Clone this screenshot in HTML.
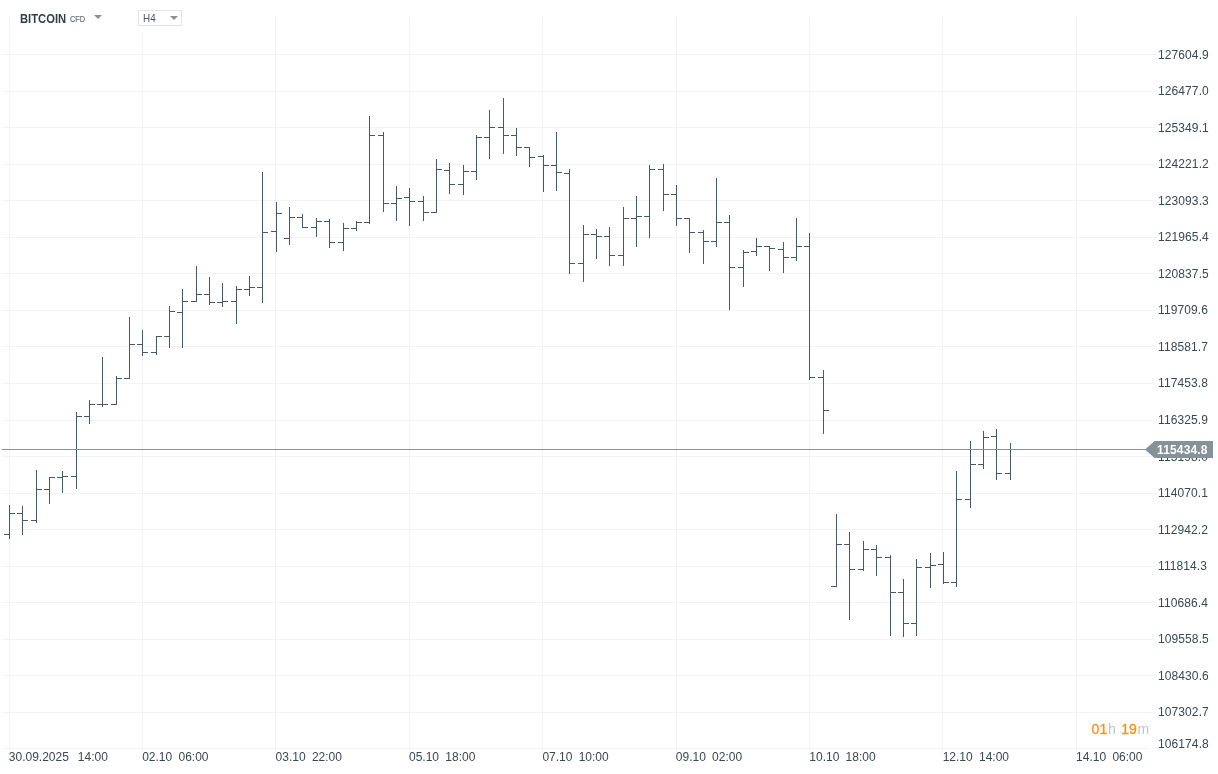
<!DOCTYPE html>
<html><head><meta charset="utf-8"><title>BITCOIN CFD H4</title>
<style>
html,body{margin:0;padding:0;background:#fff;}
body{width:1218px;height:774px;position:relative;overflow:hidden;font-family:"Liberation Sans",sans-serif;color:#37474f;}
.hg{position:absolute;left:2px;width:1154px;height:1px;background:#f1f3f5;}
.vg{position:absolute;width:1px;background:#f2f3f6;}
.pl{position:absolute;left:1158px;letter-spacing:0.1px;font-size:12px;line-height:14px;height:14px;white-space:nowrap;color:#3a4850;}
.tl{position:absolute;top:750px;font-size:12px;line-height:14px;white-space:nowrap;color:#3a4850;}
.bars{position:absolute;left:0;top:0;}
.cur{position:absolute;left:2px;top:449px;width:1150px;height:1px;background:#86929a;}
.tag{position:absolute;left:1145.2px;top:441px;}
.tagt{position:absolute;left:1157px;top:442.6px;font-size:12px;line-height:14px;font-weight:bold;color:#fff;white-space:nowrap;letter-spacing:0.15px}
.sym{position:absolute;left:20px;top:12px;font-size:12px;line-height:14px;font-weight:bold;color:#2f3f48;white-space:nowrap;transform-origin:0 0;transform:scaleX(0.935);}
.cfd{position:absolute;left:70px;top:14px;font-size:8.5px;line-height:10px;color:#69747a;-webkit-text-stroke:0.2px #69747a;transform-origin:0 0;transform:scaleX(0.86);white-space:nowrap;}
.tri{position:absolute;width:0;height:0;border-left:4px solid transparent;border-right:4px solid transparent;border-top:4px solid #8a8f92;}
.hbox{position:absolute;left:138px;top:10px;width:42px;height:14px;border:1px solid #e3e6e8;background:#fff;}
.h4{position:absolute;left:143px;top:12px;font-size:11px;line-height:12px;color:#4a5a63;transform-origin:0 0;transform:scaleX(0.9);}
.mask{position:absolute;left:136px;top:0;width:50px;height:32px;background:#fff;}
.timer{position:absolute;left:0;top:721px;font-size:14px;line-height:16px;white-space:nowrap;color:#bcc5ca;}
.timer span{position:absolute;top:0;}
.timer b{position:absolute;top:0;color:#f7931a;font-weight:normal;-webkit-text-stroke:0.35px #f7931a;}
</style></head><body>
<div class="hg" style="top:54px"></div><div class="hg" style="top:91px"></div><div class="hg" style="top:127px"></div><div class="hg" style="top:164px"></div><div class="hg" style="top:200px"></div><div class="hg" style="top:237px"></div><div class="hg" style="top:273px"></div><div class="hg" style="top:310px"></div><div class="hg" style="top:346px"></div><div class="hg" style="top:383px"></div><div class="hg" style="top:420px"></div><div class="hg" style="top:456px"></div><div class="hg" style="top:493px"></div><div class="hg" style="top:529px"></div><div class="hg" style="top:566px"></div><div class="hg" style="top:602px"></div><div class="hg" style="top:639px"></div><div class="hg" style="top:675px"></div><div class="hg" style="top:712px"></div>
<div class="vg" style="left:9px;top:18px;height:734px"></div><div class="vg" style="left:142px;top:32px;height:720px"></div><div class="vg" style="left:275px;top:18px;height:734px"></div><div class="vg" style="left:409px;top:18px;height:734px"></div><div class="vg" style="left:542px;top:18px;height:734px"></div><div class="vg" style="left:676px;top:18px;height:734px"></div><div class="vg" style="left:809px;top:18px;height:734px"></div><div class="vg" style="left:942px;top:18px;height:734px"></div><div class="vg" style="left:1076px;top:18px;height:734px"></div>
<div class="hg" style="top:748px;width:1148px"></div>
<div class="pl" style="top:48px">127604.9</div><div class="pl" style="top:84px">126477.0</div><div class="pl" style="top:121px">125349.1</div><div class="pl" style="top:157px">124221.2</div><div class="pl" style="top:194px">123093.3</div><div class="pl" style="top:230px">121965.4</div><div class="pl" style="top:267px">120837.5</div><div class="pl" style="top:303px">119709.6</div><div class="pl" style="top:340px">118581.7</div><div class="pl" style="top:376px">117453.8</div><div class="pl" style="top:413px">116325.9</div><div class="pl" style="top:450px">115198.0</div><div class="pl" style="top:486px">114070.1</div><div class="pl" style="top:523px">112942.2</div><div class="pl" style="top:559px">111814.3</div><div class="pl" style="top:596px">110686.4</div><div class="pl" style="top:632px">109558.5</div><div class="pl" style="top:669px">108430.6</div><div class="pl" style="top:705px">107302.7</div><div class="pl" style="top:737px">106174.8</div>
<div class="tl" style="left:8.8px">30.09.2025</div><div class="tl" style="left:77.8px">14:00</div><div class="tl" style="left:142.2px">02.10</div><div class="tl" style="left:178.5px">06:00</div><div class="tl" style="left:275.6px">03.10</div><div class="tl" style="left:311.9px">22:00</div><div class="tl" style="left:409.0px">05.10</div><div class="tl" style="left:445.3px">18:00</div><div class="tl" style="left:542.4px">07.10</div><div class="tl" style="left:578.7px">10:00</div><div class="tl" style="left:675.8px">09.10</div><div class="tl" style="left:712.1px">02:00</div><div class="tl" style="left:809.3px">10.10</div><div class="tl" style="left:845.6px">18:00</div><div class="tl" style="left:942.7px">12.10</div><div class="tl" style="left:979.0px">14:00</div><div class="tl" style="left:1076.1px">14.10</div><div class="tl" style="left:1112.4px">06:00</div>
<svg class="bars" width="1218" height="774" viewBox="0 0 1218 774" shape-rendering="crispEdges" fill="#455a64"><rect x="9" y="505" width="1" height="34"/><rect x="4" y="534" width="5" height="1"/><rect x="10" y="513" width="5" height="1"/><rect x="22" y="506" width="1" height="29"/><rect x="17" y="513" width="5" height="1"/><rect x="23" y="520" width="5" height="1"/><rect x="36" y="470" width="1" height="53"/><rect x="31" y="520" width="5" height="1"/><rect x="37" y="489" width="5" height="1"/><rect x="49" y="477" width="1" height="27"/><rect x="44" y="489" width="5" height="1"/><rect x="50" y="477" width="5" height="1"/><rect x="62" y="471" width="1" height="22"/><rect x="57" y="477" width="5" height="1"/><rect x="63" y="476" width="5" height="1"/><rect x="76" y="412" width="1" height="77"/><rect x="71" y="476" width="5" height="1"/><rect x="77" y="416" width="5" height="1"/><rect x="89" y="400" width="1" height="24"/><rect x="84" y="416" width="5" height="1"/><rect x="90" y="404" width="5" height="1"/><rect x="102" y="357" width="1" height="50"/><rect x="97" y="404" width="5" height="1"/><rect x="103" y="404" width="5" height="1"/><rect x="116" y="376" width="1" height="29"/><rect x="111" y="404" width="5" height="1"/><rect x="117" y="378" width="5" height="1"/><rect x="129" y="317" width="1" height="62"/><rect x="124" y="378" width="5" height="1"/><rect x="130" y="344" width="5" height="1"/><rect x="142" y="330" width="1" height="26"/><rect x="137" y="344" width="5" height="1"/><rect x="143" y="352" width="5" height="1"/><rect x="156" y="336" width="1" height="19"/><rect x="151" y="352" width="5" height="1"/><rect x="157" y="336" width="5" height="1"/><rect x="169" y="306" width="1" height="42"/><rect x="164" y="336" width="5" height="1"/><rect x="170" y="311" width="5" height="1"/><rect x="182" y="289" width="1" height="59"/><rect x="177" y="312" width="5" height="1"/><rect x="183" y="301" width="5" height="1"/><rect x="196" y="266" width="1" height="36"/><rect x="191" y="301" width="5" height="1"/><rect x="197" y="294" width="5" height="1"/><rect x="209" y="277" width="1" height="28"/><rect x="204" y="294" width="5" height="1"/><rect x="210" y="302" width="5" height="1"/><rect x="222" y="283" width="1" height="24"/><rect x="217" y="302" width="5" height="1"/><rect x="223" y="301" width="5" height="1"/><rect x="236" y="286" width="1" height="38"/><rect x="231" y="301" width="5" height="1"/><rect x="237" y="289" width="5" height="1"/><rect x="249" y="276" width="1" height="20"/><rect x="244" y="289" width="5" height="1"/><rect x="250" y="287" width="5" height="1"/><rect x="262" y="172" width="1" height="131"/><rect x="257" y="287" width="5" height="1"/><rect x="263" y="232" width="5" height="1"/><rect x="276" y="202" width="1" height="50"/><rect x="271" y="231" width="5" height="1"/><rect x="277" y="213" width="5" height="1"/><rect x="289" y="207" width="1" height="38"/><rect x="284" y="238" width="5" height="1"/><rect x="290" y="217" width="5" height="1"/><rect x="302" y="214" width="1" height="14"/><rect x="297" y="217" width="5" height="1"/><rect x="303" y="227" width="5" height="1"/><rect x="316" y="218" width="1" height="19"/><rect x="311" y="227" width="5" height="1"/><rect x="317" y="221" width="5" height="1"/><rect x="329" y="219" width="1" height="29"/><rect x="324" y="221" width="5" height="1"/><rect x="330" y="242" width="5" height="1"/><rect x="343" y="223" width="1" height="28"/><rect x="338" y="242" width="5" height="1"/><rect x="344" y="228" width="5" height="1"/><rect x="356" y="221" width="1" height="10"/><rect x="351" y="228" width="5" height="1"/><rect x="357" y="222" width="5" height="1"/><rect x="369" y="116" width="1" height="108"/><rect x="364" y="222" width="5" height="1"/><rect x="370" y="135" width="5" height="1"/><rect x="383" y="132" width="1" height="80"/><rect x="378" y="135" width="5" height="1"/><rect x="384" y="203" width="5" height="1"/><rect x="396" y="186" width="1" height="35"/><rect x="391" y="203" width="5" height="1"/><rect x="397" y="198" width="5" height="1"/><rect x="409" y="188" width="1" height="38"/><rect x="404" y="197" width="5" height="1"/><rect x="410" y="201" width="5" height="1"/><rect x="423" y="196" width="1" height="25"/><rect x="418" y="201" width="5" height="1"/><rect x="424" y="212" width="5" height="1"/><rect x="436" y="159" width="1" height="54"/><rect x="431" y="212" width="5" height="1"/><rect x="437" y="169" width="5" height="1"/><rect x="449" y="163" width="1" height="31"/><rect x="444" y="170" width="5" height="1"/><rect x="450" y="184" width="5" height="1"/><rect x="463" y="165" width="1" height="30"/><rect x="458" y="184" width="5" height="1"/><rect x="464" y="171" width="5" height="1"/><rect x="476" y="135" width="1" height="45"/><rect x="471" y="171" width="5" height="1"/><rect x="477" y="137" width="5" height="1"/><rect x="489" y="110" width="1" height="49"/><rect x="484" y="137" width="5" height="1"/><rect x="490" y="127" width="5" height="1"/><rect x="503" y="98" width="1" height="56"/><rect x="498" y="127" width="5" height="1"/><rect x="504" y="135" width="5" height="1"/><rect x="516" y="128" width="1" height="28"/><rect x="511" y="135" width="5" height="1"/><rect x="517" y="147" width="5" height="1"/><rect x="529" y="147" width="1" height="20"/><rect x="524" y="147" width="5" height="1"/><rect x="530" y="157" width="5" height="1"/><rect x="543" y="155" width="1" height="37"/><rect x="538" y="156" width="5" height="1"/><rect x="544" y="165" width="5" height="1"/><rect x="556" y="132" width="1" height="59"/><rect x="551" y="165" width="5" height="1"/><rect x="557" y="172" width="5" height="1"/><rect x="569" y="169" width="1" height="105"/><rect x="564" y="173" width="5" height="1"/><rect x="570" y="263" width="5" height="1"/><rect x="583" y="225" width="1" height="57"/><rect x="578" y="263" width="5" height="1"/><rect x="584" y="234" width="5" height="1"/><rect x="596" y="229" width="1" height="30"/><rect x="591" y="234" width="5" height="1"/><rect x="597" y="236" width="5" height="1"/><rect x="609" y="227" width="1" height="39"/><rect x="604" y="236" width="5" height="1"/><rect x="610" y="255" width="5" height="1"/><rect x="623" y="207" width="1" height="59"/><rect x="618" y="255" width="5" height="1"/><rect x="624" y="218" width="5" height="1"/><rect x="636" y="196" width="1" height="51"/><rect x="631" y="218" width="5" height="1"/><rect x="637" y="216" width="5" height="1"/><rect x="649" y="165" width="1" height="73"/><rect x="644" y="216" width="5" height="1"/><rect x="650" y="169" width="5" height="1"/><rect x="663" y="164" width="1" height="47"/><rect x="658" y="169" width="5" height="1"/><rect x="664" y="194" width="5" height="1"/><rect x="676" y="185" width="1" height="41"/><rect x="671" y="194" width="5" height="1"/><rect x="677" y="218" width="5" height="1"/><rect x="689" y="218" width="1" height="35"/><rect x="684" y="218" width="5" height="1"/><rect x="690" y="232" width="5" height="1"/><rect x="703" y="230" width="1" height="34"/><rect x="698" y="232" width="5" height="1"/><rect x="704" y="241" width="5" height="1"/><rect x="716" y="178" width="1" height="69"/><rect x="711" y="241" width="5" height="1"/><rect x="717" y="222" width="5" height="1"/><rect x="729" y="215" width="1" height="95"/><rect x="724" y="222" width="5" height="1"/><rect x="730" y="267" width="5" height="1"/><rect x="743" y="250" width="1" height="37"/><rect x="738" y="267" width="5" height="1"/><rect x="744" y="252" width="5" height="1"/><rect x="756" y="238" width="1" height="18"/><rect x="751" y="251" width="5" height="1"/><rect x="757" y="246" width="5" height="1"/><rect x="769" y="246" width="1" height="25"/><rect x="764" y="246" width="5" height="1"/><rect x="770" y="248" width="5" height="1"/><rect x="783" y="242" width="1" height="31"/><rect x="778" y="249" width="5" height="1"/><rect x="784" y="257" width="5" height="1"/><rect x="796" y="218" width="1" height="43"/><rect x="791" y="257" width="5" height="1"/><rect x="797" y="246" width="5" height="1"/><rect x="809" y="233" width="1" height="147"/><rect x="804" y="246" width="5" height="1"/><rect x="810" y="377" width="5" height="1"/><rect x="823" y="370" width="1" height="64"/><rect x="818" y="377" width="5" height="1"/><rect x="824" y="410" width="5" height="1"/><rect x="836" y="514" width="1" height="73"/><rect x="831" y="586" width="5" height="1"/><rect x="837" y="544" width="5" height="1"/><rect x="849" y="532" width="1" height="88"/><rect x="844" y="544" width="5" height="1"/><rect x="850" y="569" width="5" height="1"/><rect x="863" y="541" width="1" height="30"/><rect x="858" y="569" width="5" height="1"/><rect x="864" y="549" width="5" height="1"/><rect x="876" y="545" width="1" height="31"/><rect x="871" y="549" width="5" height="1"/><rect x="877" y="557" width="5" height="1"/><rect x="890" y="555" width="1" height="81"/><rect x="885" y="557" width="5" height="1"/><rect x="891" y="592" width="5" height="1"/><rect x="903" y="579" width="1" height="58"/><rect x="898" y="592" width="5" height="1"/><rect x="904" y="623" width="5" height="1"/><rect x="916" y="559" width="1" height="77"/><rect x="911" y="623" width="5" height="1"/><rect x="917" y="567" width="5" height="1"/><rect x="930" y="553" width="1" height="35"/><rect x="925" y="567" width="5" height="1"/><rect x="931" y="565" width="5" height="1"/><rect x="943" y="552" width="1" height="32"/><rect x="938" y="564" width="5" height="1"/><rect x="944" y="582" width="5" height="1"/><rect x="956" y="471" width="1" height="116"/><rect x="951" y="582" width="5" height="1"/><rect x="957" y="499" width="5" height="1"/><rect x="970" y="441" width="1" height="67"/><rect x="965" y="499" width="5" height="1"/><rect x="971" y="464" width="5" height="1"/><rect x="983" y="431" width="1" height="38"/><rect x="978" y="464" width="5" height="1"/><rect x="984" y="437" width="5" height="1"/><rect x="996" y="429" width="1" height="51"/><rect x="991" y="436" width="5" height="1"/><rect x="997" y="473" width="5" height="1"/><rect x="1010" y="443" width="1" height="37"/><rect x="1005" y="473" width="5" height="1"/><rect x="1011" y="449" width="5" height="1"/></svg>
<div class="cur"></div>
<svg class="tag" width="68" height="17" viewBox="0 0 68 17"><polygon points="0,8.5 9.6,0 68,0 68,17 9.6,17" fill="#86929a"/></svg>
<div class="tagt">115434.8</div>
<div class="sym">BITCOIN</div><div class="cfd">CFD</div>
<div class="tri" style="left:94px;top:15px"></div>
<div class="hbox"></div><div class="h4">H4</div>
<div class="tri" style="left:170px;top:16px"></div>
<div class="timer"><b style="left:1091.6px">01</b><span style="left:1108px">h</span><b style="left:1121.2px">19</b><span style="left:1137.4px">m</span></div>
</body></html>
